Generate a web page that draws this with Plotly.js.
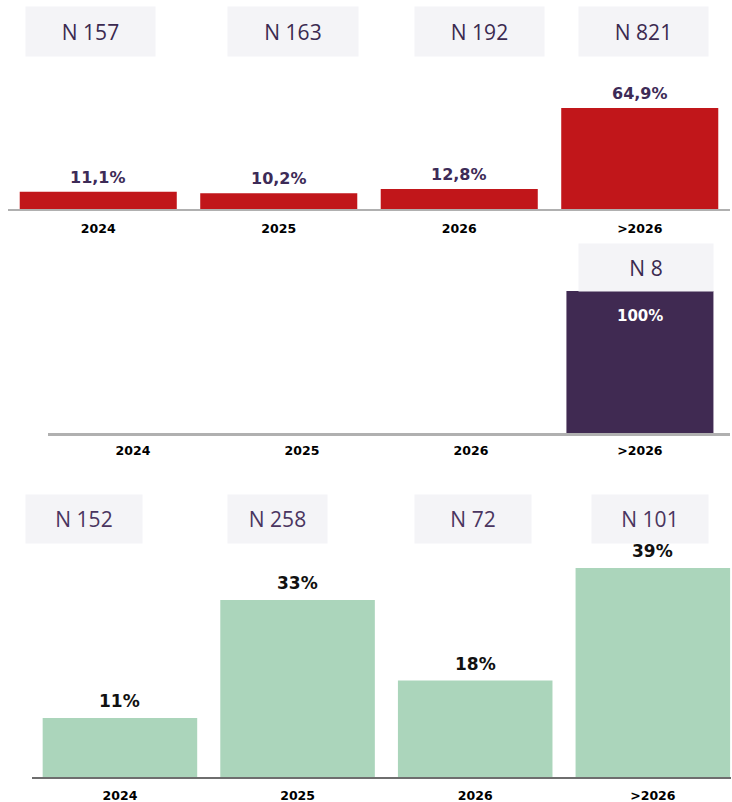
<!DOCTYPE html>
<html><head><meta charset="utf-8">
<script src="https://cdn.plot.ly/plotly-3.0.1.min.js"></script>
<style>html,body{margin:0;padding:0;background:#fff}</style>
</head><body><div id="chart" style="width:732px;height:802px"></div>
<script>
var categories = ["2024", "2025", "2026", ">2026"];
var values1 = [11.1, 10.2, 12.8, 64.9];
var labels1 = ["11,1%", "10,2%", "12,8%", "64,9%"];
var n1 = ["N 157", "N 163", "N 192", "N 821"];
var values2 = [null, null, null, 100];
var labels2 = ["", "", "", "100%"];
var n2 = [null, null, null, "N 8"];
var values3 = [11, 33, 18, 39];
var labels3 = ["11%", "33%", "18%", "39%"];
var n3 = ["N 152", "N 258", "N 72", "N 101"];

var H = 802, W = 732;
function py(p){ return (H - p) / H; }

var traces = [
  {type:'bar', x:categories, y:values1, xaxis:'x', yaxis:'y', marker:{color:'#c1161a'}, hoverinfo:'none'},
  {type:'bar', x:categories, y:values2, xaxis:'x2', yaxis:'y2', marker:{color:'#402a52'}, hoverinfo:'none'},
  {type:'bar', x:categories, y:values3, xaxis:'x3', yaxis:'y3', marker:{color:'#abd5bb'}, hoverinfo:'none'}
];

var ann = [];
var tickFont = {family:'DejaVu Sans', size:12.5, color:'#000', weight:700};
// value labels (x given as category index, since the labels look numeric)
categories.forEach(function(c,i){
  ann.push({xref:'x', yref:'y', x:i, y:values1[i], text:labels1[i], showarrow:false, yanchor:'bottom', yshift:3,
    font:{family:'DejaVu Sans', size:16, color:'#3d2b57', weight:700}});
  if (values2[i] !== null) ann.push({xref:'x2', yref:'y2', x:i, y:values2[i], text:labels2[i], showarrow:false, yanchor:'top', yshift:-14,
    font:{family:'DejaVu Sans', size:15, color:'#ffffff', weight:700}});
  ann.push({xref:'x3', yref:'y3', x:i, y:values3[i], text:labels3[i], showarrow:false, yanchor:'bottom', yshift:5,
    font:{family:'DejaVu Sans', size:17, color:'#111111', weight:700}});
});
// N boxes
var off1 = [-8, 14.5, 20, 3.5], w1 = [127, 128, 127, 127];
var off3 = [-36, -20, -2.5, -3], w3 = [114, 97, 114, 114];
categories.forEach(function(c,i){
  ann.push({xref:'x', yref:'paper', x:i, y:py(31.5), yanchor:'middle', xshift:off1[i], text:n1[i], showarrow:false,
    width:w1[i], height:47, bgcolor:'#f4f4f7', font:{family:'Open Sans', size:21, color:'#3b2a50'}});
  if (n2[i]) ann.push({xref:'x2', yref:'paper', x:i, y:py(267.5), yanchor:'middle', xshift:6, text:n2[i], showarrow:false,
    width:132, height:45, bgcolor:'#f4f4f7', font:{family:'Open Sans', size:21, color:'#3b2a50'}});
  ann.push({xref:'x3', yref:'paper', x:i, y:py(519), yanchor:'middle', xshift:off3[i], text:n3[i], showarrow:false,
    width:w3[i], height:46, bgcolor:'#f4f4f7', font:{family:'Open Sans', size:21, color:'#4a3560'}});
});

function xa(domain, range, lineColor, lineW, standoff){
  return {domain:domain, range:range, type:'category', showgrid:false, zeroline:false, showline:true,
    linecolor:lineColor, linewidth:lineW, ticks:'', tickfont:tickFont, ticklabelstandoff:standoff, fixedrange:true};
}
function ya(domain, range){
  return {domain:domain, range:range, showgrid:false, zeroline:false, showline:false, showticklabels:false, fixedrange:true};
}

var layout = {
  width:W, height:H, margin:{l:0,r:0,t:0,b:0}, paper_bgcolor:'#fff', plot_bgcolor:'rgba(0,0,0,0)',
  showlegend:false, bargap:0.13,
  xaxis: xa([8/W, 730/W], [-0.5, 3.5], '#b0b0b0', 2, 7),
  yaxis: ya([py(209), py(60)], [0, 149/1.556]),
  xaxis2: xa([48/W, 730/W], [-0.503, 3.533], '#b0b0b0', 3, 4),
  yaxis2: ya([py(433), py(280)], [0, 153/1.42]),
  xaxis3: xa([32/W, 731/W], [-0.495, 3.44], '#6e6e6e', 2, 6),
  yaxis3: ya([py(777), py(545)], [0, 232/5.36]),
  annotations: ann
};
layout.xaxis2.anchor='y2'; layout.yaxis2.anchor='x2';
layout.xaxis3.anchor='y3'; layout.yaxis3.anchor='x3';

Plotly.newPlot('chart', traces, layout, {displayModeBar:false, staticPlot:true});
</script></body></html>
